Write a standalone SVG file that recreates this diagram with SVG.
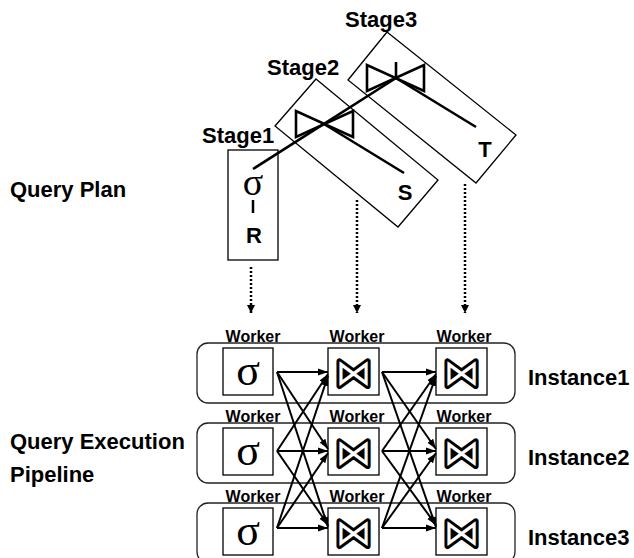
<svg xmlns="http://www.w3.org/2000/svg" width="634" height="558" viewBox="0 0 634 558">
<defs>
<style>
.lbl{font-family:"Liberation Sans",Arial,sans-serif;font-weight:bold;fill:#000}
.big{font-size:22px}
.wk{font-size:16px;text-anchor:middle}
.box{fill:#fff;stroke:#000;stroke-width:1.3}
.inst{fill:none;stroke:#222;stroke-width:1.3}
.sig{font-family:"Liberation Serif","DejaVu Serif",serif;text-anchor:middle;fill:#000}
.bt{font-family:"DejaVu Sans",sans-serif;font-weight:normal;text-anchor:middle;fill:#fff;stroke:#000;stroke-width:6;stroke-linejoin:round;paint-order:stroke}
.stage{fill:none;stroke:#000;stroke-width:1.3}
.pl{stroke:#000;stroke-width:2.6;fill:none;stroke-linejoin:miter}
.arr{stroke:#000;stroke-width:2;fill:none;marker-end:url(#ah)}
.dot{stroke:#000;stroke-width:2.5;stroke-dasharray:2 2;fill:none;marker-end:url(#ad)}
</style>
<marker id="ah" markerUnits="userSpaceOnUse" markerWidth="12" markerHeight="10" refX="10" refY="5" orient="auto">
<path d="M0,1.5 L10,5 L0,8.5 Z" fill="#000"/>
</marker>
<marker id="ad" markerUnits="userSpaceOnUse" markerWidth="10" markerHeight="10" refX="8" refY="5" orient="auto">
<path d="M0,1 L8,5 L0,9 Z" fill="#000"/>
</marker>
</defs>
<rect width="634" height="558" fill="#fff"/>

<text class="lbl big" x="10" y="197">Query Plan</text>
<text class="lbl big" x="10" y="449">Query Execution</text>
<text class="lbl big" x="10" y="482">Pipeline</text>

<g id="stage3">
<polygon class="stage" points="387,32 516,135 476,183 348,80"/>
<text class="lbl big" x="345" y="27">Stage3</text>
<path class="pl" d="M367,65 L367,91 L424,65 L424,91 Z"/>
<line class="pl" x1="396" y1="62" x2="396" y2="78"/>
<line class="pl" x1="396" y1="78" x2="476" y2="127"/>
<text class="lbl big" x="485" y="157" text-anchor="middle">T</text>
</g>
<g id="stage2">
<polygon class="stage" points="316,79 438,180 398,227 275,126"/>
<text class="lbl big" x="267" y="75">Stage2</text>
<path class="pl" d="M296,111 L296,137 L353,111 L353,137 Z"/>
<line class="pl" x1="324" y1="124" x2="404" y2="173"/>
<text class="lbl big" x="405" y="200" text-anchor="middle">S</text>
</g>
<g id="stage1">
<rect class="stage" x="228" y="150" width="50" height="110"/>
<text class="lbl big" x="202" y="143">Stage1</text>
<text class="sig" x="253" y="195" font-size="38">σ</text>
<line x1="253" y1="200" x2="253" y2="213" stroke="#000" stroke-width="2.5"/>
<text class="lbl big" x="254" y="243" text-anchor="middle">R</text>
</g>
<g id="plan-edges">
<line class="pl" x1="253" y1="169" x2="396" y2="78"/>
</g>

<g id="instance1">
<rect class="inst" x="197" y="343" width="318" height="60" rx="11"/>
<text class="lbl big" x="528" y="385">Instance1</text>
</g>
<g id="instance2">
<rect class="inst" x="197" y="423" width="318" height="60" rx="11"/>
<text class="lbl big" x="528" y="465">Instance2</text>
</g>
<g id="instance3">
<rect class="inst" x="197" y="503" width="318" height="60" rx="11"/>
<text class="lbl big" x="528" y="545">Instance3</text>
</g>

<g id="w11"><text class="lbl wk" x="253" y="342">Worker</text><rect class="box" x="223" y="348" width="50" height="47"/><text class="sig" x="248" y="385" font-size="44">σ</text></g>
<g id="w21"><text class="lbl wk" x="253" y="422">Worker</text><rect class="box" x="223" y="428" width="50" height="47"/><text class="sig" x="248" y="465" font-size="44">σ</text></g>
<g id="w31"><text class="lbl wk" x="253" y="502">Worker</text><rect class="box" x="223" y="508" width="50" height="47"/><text class="sig" x="248" y="545" font-size="44">σ</text></g>

<g id="w12"><text class="lbl wk" x="357" y="342">Worker</text><rect class="box" x="328" y="348" width="51" height="47"/><text class="bt" x="353.5" y="385" font-size="36">⋈</text></g>
<g id="w22"><text class="lbl wk" x="357" y="422">Worker</text><rect class="box" x="328" y="428" width="51" height="47"/><text class="bt" x="353.5" y="465" font-size="36">⋈</text></g>
<g id="w32"><text class="lbl wk" x="357" y="502">Worker</text><rect class="box" x="328" y="508" width="51" height="47"/><text class="bt" x="353.5" y="545" font-size="36">⋈</text></g>

<g id="w13"><text class="lbl wk" x="464" y="342">Worker</text><rect class="box" x="436" y="348" width="51" height="47"/><text class="bt" x="461.5" y="385" font-size="36">⋈</text></g>
<g id="w23"><text class="lbl wk" x="464" y="422">Worker</text><rect class="box" x="436" y="428" width="51" height="47"/><text class="bt" x="461.5" y="465" font-size="36">⋈</text></g>
<g id="w33"><text class="lbl wk" x="464" y="502">Worker</text><rect class="box" x="436" y="508" width="51" height="47"/><text class="bt" x="461.5" y="545" font-size="36">⋈</text></g>

<g id="connectors">
<line class="dot" x1="251" y1="267" x2="251" y2="313"/>
<line class="dot" x1="357" y1="200" x2="357" y2="313"/>
<line class="dot" x1="465" y1="184" x2="465" y2="313"/>

<line class="arr" x1="277" y1="372" x2="328" y2="372"/>
<line class="arr" x1="277" y1="372" x2="328" y2="449"/>
<line class="arr" x1="277" y1="372" x2="328" y2="527"/>
<line class="arr" x1="277" y1="451" x2="328" y2="374"/>
<line class="arr" x1="277" y1="451" x2="328" y2="451"/>
<line class="arr" x1="277" y1="451" x2="328" y2="525"/>
<line class="arr" x1="277" y1="528" x2="328" y2="376"/>
<line class="arr" x1="277" y1="528" x2="328" y2="453"/>
<line class="arr" x1="277" y1="528" x2="328" y2="528"/>

<line class="arr" x1="382" y1="372" x2="436" y2="372"/>
<line class="arr" x1="382" y1="372" x2="436" y2="449"/>
<line class="arr" x1="382" y1="372" x2="436" y2="527"/>
<line class="arr" x1="382" y1="451" x2="436" y2="374"/>
<line class="arr" x1="382" y1="451" x2="436" y2="451"/>
<line class="arr" x1="382" y1="451" x2="436" y2="525"/>
<line class="arr" x1="382" y1="528" x2="436" y2="376"/>
<line class="arr" x1="382" y1="528" x2="436" y2="453"/>
<line class="arr" x1="382" y1="528" x2="436" y2="528"/>
</g>
</svg>
